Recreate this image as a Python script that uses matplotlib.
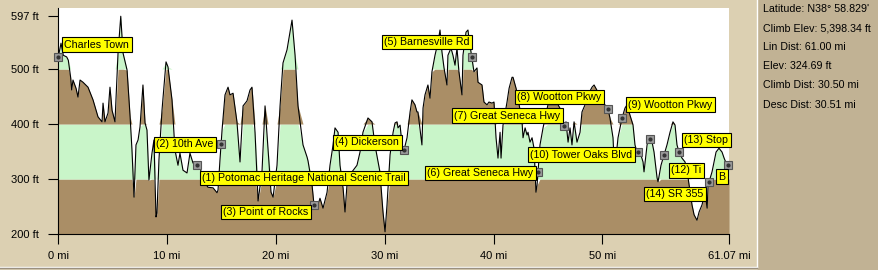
import numpy as np
import matplotlib
matplotlib.use('Agg')
import matplotlib.pyplot as plt
from matplotlib.patches import Rectangle
from matplotlib.lines import Line2D

plt.rcParams['font.family'] = ['Liberation Sans', 'DejaVu Sans']

# профиль высот: дистанция (мили по шкале графика) и высота (футы)
dist_mi = [0, 0.25, 0.46, 0.77, 0.92, 1.14, 1.23, 1.35, 1.63, 1.81, 2.0, 2.27, 2.73, 3.19, 3.65,
           4.02, 4.11, 4.29, 4.57, 4.75, 4.94, 5.21, 5.49, 5.74, 5.95, 6.32, 6.6, 6.77, 6.96, 7.14,
           7.33, 7.51, 7.78, 7.97, 8.15, 8.33, 8.61, 8.79, 8.98, 9.07, 9.25, 9.53, 9.9, 10.08, 10.45,
           10.72, 11.0, 11.18, 11.46, 11.83, 12.1, 12.38, 12.75, 13.02, 13.3, 13.76, 14.22, 14.59,
           14.68, 14.86, 15.05, 15.32, 15.6, 15.78, 16.06, 16.42, 16.7, 16.98, 17.34, 17.62, 17.8,
           18.08, 18.36, 18.72, 19.0, 19.28, 19.55, 19.74, 20.1, 20.38, 20.65, 21.02, 21.48, 21.76,
           22.03, 22.49, 22.86, 22.95, 23.31, 23.5, 23.78, 24.05, 24.33, 24.7, 24.97, 25.25, 25.43,
           25.71, 25.89, 26.17, 26.35, 26.53, 26.99, 27.45, 27.73, 28.0, 28.46, 28.83, 29.1, 29.56,
           29.84, 30.03, 30.21, 30.49, 30.77, 30.95, 31.13, 31.22, 31.41, 31.68, 32.05, 32.33, 32.5,
           32.78, 32.96, 33.05, 33.42, 33.52, 33.7, 33.97, 34.16, 34.34, 34.62, 34.9, 35.08, 35.26,
           35.45, 35.72, 35.81, 36.09, 36.27, 36.46, 36.64, 36.82, 37.1, 37.19, 37.47, 37.65, 37.74,
           37.93, 38.2, 38.48, 38.57, 38.94, 39.12, 39.4, 39.58, 39.86, 40.04, 40.23, 40.41, 40.6,
           40.69, 40.87, 41.24, 41.43, 41.7, 41.79, 42.07, 42.25, 42.62, 42.71, 42.9, 43.08, 43.17,
           43.35, 43.54, 43.72, 43.9, 44.0, 44.27, 44.55, 45.0, 45.47, 45.93, 46.3, 46.39, 46.66,
           46.85, 47.03, 47.21, 47.4, 47.67, 47.95, 48.13, 48.41, 48.68, 49.05, 49.24, 49.6, 50.06,
           50.52, 50.7, 50.98, 51.07, 51.26, 51.44, 51.81, 52.08, 52.27, 52.54, 52.82, 53.0, 53.19,
           53.46, 53.74, 53.83, 54.11, 54.29, 54.57, 54.75, 55.03, 55.12, 55.39, 55.58, 55.94, 56.22,
           56.49, 56.68, 56.86, 57.05, 57.32, 57.6, 57.88, 58.24, 58.43, 58.7, 58.89, 59.16, 59.44,
           59.63, 59.72, 60.08, 60.27, 60.45, 60.72, 61.0, 61.19, 61.46, 61.64]
elev_ft = [522, 547, 525, 522, 516, 484, 462, 480, 465, 449, 480, 476, 467, 444, 413,
           404, 438, 404, 420, 467, 425, 404, 529, 596, 529, 498, 413, 353, 267, 362,
           371, 395, 471, 402, 389, 298, 347, 371, 231, 238, 335, 425, 513, 504, 444,
           353, 325, 347, 316, 311, 347, 329, 325, 322, 298, 285, 284, 275,
           280, 335, 389, 453, 467, 453, 456, 404, 331, 433, 442, 462, 467,
           385, 260, 313, 433, 353, 276, 267, 325, 433, 511, 535, 589, 525,
           433, 362, 340, 333, 291, 253, 247, 265, 247, 276, 325, 362, 393,
           385, 325, 284, 240, 289, 313, 325, 349, 385, 411, 404, 362, 313,
           240, 204, 253, 344, 385, 402, 404, 393, 398, 345, 375, 422, 444,
           435, 422, 422, 362, 429, 453, 471, 447, 495, 525, 549, 571, 531,
           502, 471, 525, 538, 525, 507, 538, 495, 453, 525, 567, 571, 556,
           531, 495, 502, 476, 471, 440, 435, 440, 438, 440, 375, 338, 385,
           338, 398, 440, 465, 485, 485, 465, 447, 404, 375, 393, 380, 385,
           367, 375, 356, 276, 289, 362, 393, 435, 435, 435, 422, 393, 404,
           367, 393, 362, 404, 367, 385, 422, 435, 453, 467, 471, 458, 440,
           427, 411, 375, 338, 340, 375, 411, 429, 435, 416, 398, 362, 349,
           349, 331, 313, 362, 376, 367, 349, 302, 295, 325, 338, 362, 385,
           404, 398, 362, 349, 338, 331, 302, 253, 235, 225, 240, 253, 276,
           247, 289, 313, 331, 349, 356, 349, 338, 325, 325]

# точки маршрута
marker_mi = [0, 12.75, 14.96, 23.5, 31.77, 38.0, 44.09, 46.48, 50.52, 51.81,
             53.28, 54.38, 55.67, 57.05, 59.81, 61.55]

# подписи
label_text = ['Charles Town', '(2) 10th Ave', '(1) Potomac Heritage National Scenic Trail',
              '(3) Point of Rocks', '(4) Dickerson', '(5) Barnesville Rd', '(6) Great Seneca Hwy',
              '(7) Great Seneca Hwy', '(8) Wootton Pkwy', '(10) Tower Oaks Blvd', '(9) Wootton Pkwy',
              '(13) Stop', '(12) Ti', 'B', '(14) SR 355']
label_mi = [0.34, 8.8, 13.02, 14.95, 25.25, 29.75, 33.7, 36.18, 41.98, 43.17, 52.18,
            57.32, 56.13, 60.45, 53.83]
label_ft = [544, 363, 302, 240, 367, 549, 311, 415, 449, 344, 435, 371, 316, 304, 273]

x_ticks = [0, 10, 20, 30, 40, 50]
total_label = '61.07 mi'
y_ticks = [200, 300, 400, 500, 597]

info_lines = ["Latitude: N38\u00b0 58.829'", 'Climb Elev: 5,398.34 ft', 'Lin Dist: 61.00 mi',
              'Elev: 324.69 ft', 'Climb Dist: 30.50 mi', 'Desc Dist: 30.51 mi']

BROWN = '#aa8e66'
GREEN = '#c9f5c9'
BG = '#dcd0b2'
PANEL = '#c1b294'
FS = 7.7

x = np.array(dist_mi)
y = np.array(elev_ft)
y_top = 611

fig = plt.figure(figsize=(8.79, 2.70), dpi=100, facecolor=BG)
ax = fig.add_axes([58.3 / 879, 36 / 270, (729 - 58.3) / 879, 226 / 270])
ax.set_facecolor('white')

# полосы высот под профилем
bands = [(200, 300, BROWN), (300, 400, GREEN), (400, 500, BROWN), (500, y_top, GREEN)]
for lo, hi, c in bands:
    ax.fill_between(x, lo, np.clip(y, lo, hi), color=c, lw=0)
ax.plot(x, y, color='black', lw=0.8)

mk_y = np.interp(marker_mi, x, y)
ax.plot(marker_mi, mk_y, 's', ms=5.5, mfc='#9a9a9a', mec='#555555', mew=0.8, clip_on=False, zorder=4)
ax.plot(marker_mi, mk_y, 'o', ms=2, mfc='#333333', mec='#333333', clip_on=False, zorder=5)

for t, lx, ly in zip(label_text, label_mi, label_ft):
    ax.text(lx + 0.22, ly, t, fontsize=FS, ha='left', va='center', zorder=6,
            bbox=dict(boxstyle='square,pad=0.22', fc='#ffff00', ec='black', lw=0.8))

ax.set_xlim(0, x[-1])
ax.set_ylim(200, y_top)
ax.set_xticks(x_ticks + [x[-1]])
ax.set_xticklabels([f'{v} mi' for v in x_ticks] + [total_label])
ax.set_yticks(y_ticks)
ax.set_yticklabels([f'{v} ft' for v in y_ticks])
ax.tick_params(axis='both', length=7, width=0.8, labelsize=FS + 0.3, colors='black')
ax.tick_params(axis='y', pad=7)
ax.tick_params(axis='x', pad=5)
for s in ['top', 'right']:
    ax.spines[s].set_visible(False)
ax.spines['left'].set_linewidth(0.8)
ax.spines['bottom'].set_linewidth(0.8)

# правая панель со сводкой
fig.add_artist(Rectangle((758 / 879, 0), 1, 1, transform=fig.transFigure, color=PANEL, zorder=0))
fig.add_artist(Line2D([757 / 879, 757 / 879], [3 / 270, 1], transform=fig.transFigure, color='white', lw=1))
fig.add_artist(Line2D([0, 757 / 879], [3 / 270, 3 / 270], transform=fig.transFigure, color='white', lw=1))
fig.add_artist(Line2D([0, 757 / 879], [2 / 270, 2 / 270], transform=fig.transFigure, color='#9a9080', lw=1))
for i, line in enumerate(info_lines):
    fig.text(763 / 879, 1 - (9.5 + 19 * i) / 270, line, fontsize=FS, ha='left', va='center')

fig.savefig('out.png', dpi=100, facecolor=BG)
